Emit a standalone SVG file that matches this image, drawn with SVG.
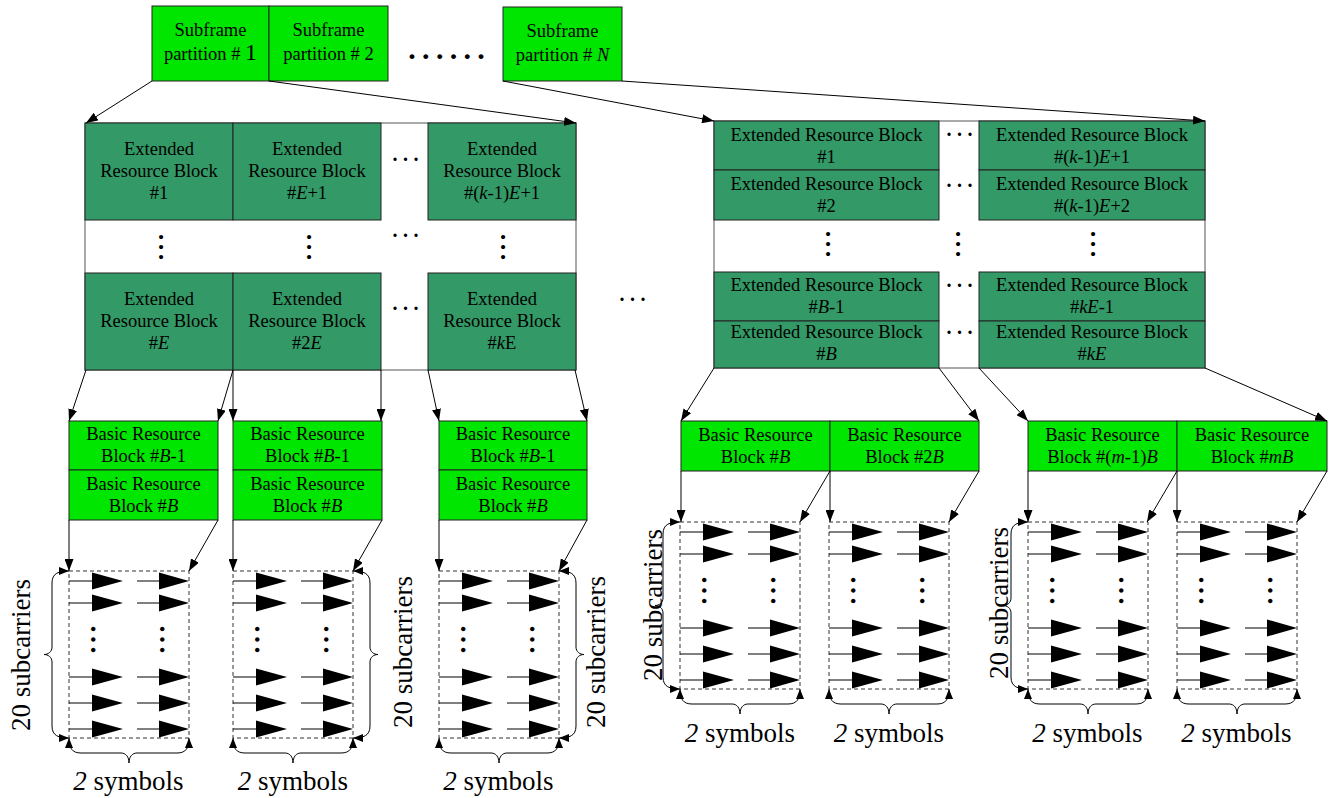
<svg xmlns="http://www.w3.org/2000/svg" xmlns:xlink="http://www.w3.org/1999/xlink" width="1335" height="798" viewBox="0 0 1335 798">
<style>
text{font-family:"Liberation Serif","Times New Roman",serif;fill:#000}
.t{font-size:18.5px;text-anchor:middle}
.lab{font-size:27px;text-anchor:middle}
.i{font-style:italic}
.erb{fill:#339966;stroke:#222;stroke-width:1}
.brb{fill:#00e600;stroke:#222;stroke-width:1}
.frame{fill:#fff;stroke:#555;stroke-width:1}
.conn{stroke:#000;stroke-width:1;fill:none;marker-end:url(#ah)}
.brace{stroke:#000;stroke-width:1;fill:none;marker-start:url(#bh);marker-end:url(#bh)}
.hd{font-size:20px;font-weight:bold;letter-spacing:5.5px}
.td{font-size:30px;font-weight:bold;letter-spacing:6.3px}
.vd{font-size:26px;font-weight:bold;letter-spacing:3.5px}
.vg{font-size:28px;font-weight:bold;letter-spacing:3.5px}
</style>
<defs>
<marker id="ah" viewBox="0 0 12 9" refX="12" refY="4.5" markerWidth="12" markerHeight="9" markerUnits="userSpaceOnUse" orient="auto"><path d="M0,0 L12,4.5 L0,9 z" fill="#000"/></marker>
<marker id="bh" viewBox="0 0 10 8" refX="10" refY="4" markerWidth="10" markerHeight="8" markerUnits="userSpaceOnUse" orient="auto-start-reverse"><path d="M0,0 L10,4 L0,8 z" fill="#000"/></marker>
<g id="gridTpl">
<rect x="0" y="0" width="120" height="167" fill="none" stroke="#333" stroke-dasharray="4 3"/>
<path d="M0,10H23M68,10H90M0,32H23M68,32H90M0,106H23M68,106H90M0,132H23M68,132H90M0,158H23M68,158H90" stroke="#000" fill="none"/>
<polygon points="23,1.5 54,10 23,18.5"/><polygon points="90,1.5 120,10 90,18.5"/>
<polygon points="23,23.5 54,32 23,40.5"/><polygon points="90,23.5 120,32 90,40.5"/>
<polygon points="23,97.5 54,106 23,114.5"/><polygon points="90,97.5 120,106 90,114.5"/>
<polygon points="23,123.5 54,132 23,140.5"/><polygon points="90,123.5 120,132 90,140.5"/>
<polygon points="23,149.5 54,158 23,166.5"/><polygon points="90,149.5 120,158 90,166.5"/>
<text class="vg" transform="translate(22,54.5) rotate(90)">...</text>
<text class="vg" transform="translate(91,54.5) rotate(90)">...</text>
</g>
<path id="braceV" d="M0,0 C-10,0 -17,2 -17,12 L-17,76 C-17,81 -21,83.5 -25,83.5 C-21,83.5 -17,86 -17,91 L-17,155 C-17,165 -10,167 0,167"/>
<path id="braceH" d="M0,0 C0,10 3,15 12,15 L52,15 C57,15 60,19 60,25 C60,19 63,15 68,15 L108,15 C117,15 120,10 120,0"/>
</defs>
<rect width="1335" height="798" fill="#fff"/>

<!-- Subframe partitions -->
<g id="sf1"><rect class="brb" x="152" y="6" width="117" height="75"/><text class="t" x="210.5" y="36">Subframe</text><text class="t" x="210.5" y="60">partition # <tspan font-size="24">1</tspan></text></g>
<g id="sf2"><rect class="brb" x="269" y="6" width="119" height="75"/><text class="t" x="328.5" y="36">Subframe</text><text class="t" x="328.5" y="60">partition # 2</text></g>
<g id="sfN"><rect class="brb" x="503" y="7" width="119" height="74"/><text class="t" x="562.5" y="37">Subframe</text><text class="t" x="562.5" y="61">partition # <tspan class="i">N</tspan></text></g>
<text class="td" x="408.3" y="59">......</text>

<!-- Left extended resource blocks -->
<g id="erbL-frame"><rect class="frame" x="85" y="123" width="491" height="247"/></g>
<g id="erbL-1"><rect class="erb" x="85" y="123" width="148" height="97"/><text class="t" x="159" y="155">Extended</text><text class="t" x="159" y="177">Resource Block</text><text class="t" x="159" y="199">#1</text></g>
<g id="erbL-E1"><rect class="erb" x="233" y="123" width="148" height="97"/><text class="t" x="307" y="155">Extended</text><text class="t" x="307" y="177">Resource Block</text><text class="t" x="307" y="199">#<tspan class="i">E</tspan>+1</text></g>
<g id="erbL-k1E1"><rect class="erb" x="428" y="123" width="148" height="97"/><text class="t" x="502" y="155">Extended</text><text class="t" x="502" y="177">Resource Block</text><text class="t" x="502" y="199">#(<tspan class="i">k</tspan>-1)<tspan class="i">E</tspan>+1</text></g>
<g id="erbL-E"><rect class="erb" x="85" y="273" width="148" height="97"/><text class="t" x="159" y="305">Extended</text><text class="t" x="159" y="327">Resource Block</text><text class="t" x="159" y="349">#<tspan class="i">E</tspan></text></g>
<g id="erbL-2E"><rect class="erb" x="233" y="273" width="148" height="97"/><text class="t" x="307" y="305">Extended</text><text class="t" x="307" y="327">Resource Block</text><text class="t" x="307" y="349">#2<tspan class="i">E</tspan></text></g>
<g id="erbL-kE"><rect class="erb" x="428" y="273" width="148" height="97"/><text class="t" x="502" y="305">Extended</text><text class="t" x="502" y="327">Resource Block</text><text class="t" x="502" y="349">#<tspan class="i">k</tspan>E</text></g>
<text class="hd" x="392.5" y="161.4">...</text>
<text class="hd" x="392.5" y="237.4">...</text>
<text class="hd" x="392.5" y="310.4">...</text>
<text class="vd" transform="translate(159.15,233.8) rotate(90)">...</text>
<text class="vd" transform="translate(307.15,233.8) rotate(90)">...</text>
<text class="vd" transform="translate(501.15,233.8) rotate(90)">...</text>

<text class="hd" x="619.5" y="301.4">...</text>

<!-- Right extended resource blocks -->
<g id="erbR-frame"><rect class="frame" x="714" y="121" width="491" height="247"/></g>
<g id="erbR-1"><rect class="erb" x="714" y="121" width="225" height="49"/><text class="t" x="826.5" y="141">Extended Resource Block</text><text class="t" x="826.5" y="163">#1</text></g>
<g id="erbR-2"><rect class="erb" x="714" y="170" width="225" height="50"/><text class="t" x="826.5" y="190">Extended Resource Block</text><text class="t" x="826.5" y="212">#2</text></g>
<g id="erbR-B1"><rect class="erb" x="714" y="272" width="225" height="49"/><text class="t" x="826.5" y="291">Extended Resource Block</text><text class="t" x="826.5" y="313">#<tspan class="i">B</tspan>-1</text></g>
<g id="erbR-B"><rect class="erb" x="714" y="321" width="225" height="47"/><text class="t" x="826.5" y="338">Extended Resource Block</text><text class="t" x="826.5" y="360">#<tspan class="i">B</tspan></text></g>
<g id="erbR-k1E1"><rect class="erb" x="979" y="121" width="226" height="49"/><text class="t" x="1092" y="141">Extended Resource Block</text><text class="t" x="1092" y="163">#(<tspan class="i">k</tspan>-1)<tspan class="i">E</tspan>+1</text></g>
<g id="erbR-k1E2"><rect class="erb" x="979" y="170" width="226" height="50"/><text class="t" x="1092" y="190">Extended Resource Block</text><text class="t" x="1092" y="212">#(<tspan class="i">k</tspan>-1)<tspan class="i">E</tspan>+2</text></g>
<g id="erbR-kE1"><rect class="erb" x="979" y="272" width="226" height="49"/><text class="t" x="1092" y="291">Extended Resource Block</text><text class="t" x="1092" y="313">#<tspan class="i">kE</tspan>-1</text></g>
<g id="erbR-kE"><rect class="erb" x="979" y="321" width="226" height="47"/><text class="t" x="1092" y="338">Extended Resource Block</text><text class="t" x="1092" y="360">#<tspan class="i">kE</tspan></text></g>
<text class="hd" x="946.5" y="136.4">...</text>
<text class="hd" x="946.5" y="187.4">...</text>
<text class="hd" x="946.5" y="287.4">...</text>
<text class="hd" x="946.5" y="334.4">...</text>
<text class="vd" transform="translate(826.15,230.8) rotate(90)">...</text>
<text class="vd" transform="translate(956.15,230.8) rotate(90)">...</text>
<text class="vd" transform="translate(1091.15,230.8) rotate(90)">...</text>

<!-- Left basic resource blocks -->
<g id="brbL1"><rect class="brb" x="69" y="421" width="149" height="49"/><rect class="brb" x="69" y="470" width="149" height="50"/><text class="t" x="143.5" y="440">Basic Resource</text><text class="t" x="143.5" y="462">Block #<tspan class="i">B</tspan>-1</text><text class="t" x="143.5" y="490">Basic Resource</text><text class="t" x="143.5" y="512">Block #<tspan class="i">B</tspan></text></g>
<g id="brbL2"><rect class="brb" x="233" y="421" width="149" height="49"/><rect class="brb" x="233" y="470" width="149" height="50"/><text class="t" x="307.5" y="440">Basic Resource</text><text class="t" x="307.5" y="462">Block #<tspan class="i">B</tspan>-1</text><text class="t" x="307.5" y="490">Basic Resource</text><text class="t" x="307.5" y="512">Block #<tspan class="i">B</tspan></text></g>
<g id="brbL3"><rect class="brb" x="439" y="421" width="148" height="49"/><rect class="brb" x="439" y="470" width="148" height="50"/><text class="t" x="513" y="440">Basic Resource</text><text class="t" x="513" y="462">Block #<tspan class="i">B</tspan>-1</text><text class="t" x="513" y="490">Basic Resource</text><text class="t" x="513" y="512">Block #<tspan class="i">B</tspan></text></g>

<!-- Right basic resource blocks -->
<g id="brbR1"><rect class="brb" x="681" y="421" width="149" height="50"/><text class="t" x="755.5" y="441">Basic Resource</text><text class="t" x="755.5" y="463">Block #<tspan class="i">B</tspan></text></g>
<g id="brbR2"><rect class="brb" x="830" y="421" width="149" height="50"/><text class="t" x="904.5" y="441">Basic Resource</text><text class="t" x="904.5" y="463">Block #2<tspan class="i">B</tspan></text></g>
<g id="brbR3"><rect class="brb" x="1028" y="421" width="149" height="50"/><text class="t" x="1102.5" y="441">Basic Resource</text><text class="t" x="1102.5" y="463">Block #(<tspan class="i">m</tspan>-1)<tspan class="i">B</tspan></text></g>
<g id="brbR4"><rect class="brb" x="1177" y="421" width="150" height="50"/><text class="t" x="1252" y="441">Basic Resource</text><text class="t" x="1252" y="463">Block #<tspan class="i">mB</tspan></text></g>

<!-- Subcarrier grids -->
<g id="gridL1"><use xlink:href="#gridTpl" href="#gridTpl" x="69" y="571"/></g>
<g id="gridL2"><use xlink:href="#gridTpl" href="#gridTpl" x="233" y="571"/></g>
<g id="gridL3"><use xlink:href="#gridTpl" href="#gridTpl" x="439" y="571"/></g>
<g id="gridR1"><use xlink:href="#gridTpl" href="#gridTpl" x="680" y="522"/></g>
<g id="gridR2"><use xlink:href="#gridTpl" href="#gridTpl" x="829" y="522"/></g>
<g id="gridR3"><use xlink:href="#gridTpl" href="#gridTpl" x="1028" y="522"/></g>
<g id="gridR4"><use xlink:href="#gridTpl" href="#gridTpl" x="1177" y="522"/></g>

<!-- Braces and labels -->
<g id="braces">
<use class="brace" xlink:href="#braceV" href="#braceV" transform="translate(69,571)"/>
<use class="brace" xlink:href="#braceV" href="#braceV" transform="translate(353,571) scale(-1,1)"/>
<use class="brace" xlink:href="#braceV" href="#braceV" transform="translate(559,571) scale(-1,1)"/>
<use class="brace" xlink:href="#braceV" href="#braceV" transform="translate(680,522)"/>
<use class="brace" xlink:href="#braceV" href="#braceV" transform="translate(1028,522)"/>
<use class="brace" xlink:href="#braceH" href="#braceH" transform="translate(69,738)"/>
<use class="brace" xlink:href="#braceH" href="#braceH" transform="translate(233,738)"/>
<use class="brace" xlink:href="#braceH" href="#braceH" transform="translate(439,738)"/>
<use class="brace" xlink:href="#braceH" href="#braceH" transform="translate(680,689)"/>
<use class="brace" xlink:href="#braceH" href="#braceH" transform="translate(829,689)"/>
<use class="brace" xlink:href="#braceH" href="#braceH" transform="translate(1028,689)"/>
<use class="brace" xlink:href="#braceH" href="#braceH" transform="translate(1177,689)"/>
</g>
<g id="labels">
<text class="lab" transform="translate(30,655) rotate(-90)">20 subcarriers</text>
<text class="lab" transform="translate(412,652) rotate(-90)">20 subcarriers</text>
<text class="lab" transform="translate(605,652) rotate(-90)">20 subcarriers</text>
<text class="lab" transform="translate(662,605) rotate(-90)">20 subcarriers</text>
<text class="lab" transform="translate(1008,603) rotate(-90)">20 subcarriers</text>
<text class="lab" x="128.5" y="790"><tspan class="i">2</tspan> symbols</text>
<text class="lab" x="293" y="790"><tspan class="i">2</tspan> symbols</text>
<text class="lab" x="498.5" y="790"><tspan class="i">2</tspan> symbols</text>
<text class="lab" x="740" y="742"><tspan class="i">2</tspan> symbols</text>
<text class="lab" x="889" y="742"><tspan class="i">2</tspan> symbols</text>
<text class="lab" x="1087.5" y="742"><tspan class="i">2</tspan> symbols</text>
<text class="lab" x="1236.5" y="742"><tspan class="i">2</tspan> symbols</text>
</g>

<!-- Connectors -->
<g id="connectors">
<line class="conn" x1="152" y1="81" x2="86" y2="123"/>
<line class="conn" x1="269" y1="81" x2="576" y2="123"/>
<line class="conn" x1="503" y1="81" x2="714" y2="121"/>
<line class="conn" x1="622" y1="81" x2="1205" y2="121"/>
<line class="conn" x1="86" y1="370" x2="69" y2="421"/>
<line class="conn" x1="233" y1="370" x2="218" y2="421"/>
<line class="conn" x1="233" y1="370" x2="233" y2="421"/>
<line class="conn" x1="381" y1="370" x2="381" y2="421"/>
<line class="conn" x1="428" y1="370" x2="439" y2="421"/>
<line class="conn" x1="575" y1="370" x2="587" y2="421"/>
<line class="conn" x1="714" y1="368" x2="681" y2="421"/>
<line class="conn" x1="939" y1="368" x2="979" y2="421"/>
<line class="conn" x1="979" y1="368" x2="1028" y2="421"/>
<line class="conn" x1="1205" y1="368" x2="1327" y2="421"/>
<line class="conn" x1="69" y1="520" x2="69" y2="571"/>
<line class="conn" x1="218" y1="520" x2="189" y2="571"/>
<line class="conn" x1="233" y1="520" x2="233" y2="571"/>
<line class="conn" x1="382" y1="520" x2="353" y2="571"/>
<line class="conn" x1="439" y1="520" x2="439" y2="571"/>
<line class="conn" x1="587" y1="520" x2="559" y2="571"/>
<line class="conn" x1="681" y1="471" x2="681" y2="522"/>
<line class="conn" x1="830" y1="471" x2="800" y2="522"/>
<line class="conn" x1="830" y1="471" x2="830" y2="522"/>
<line class="conn" x1="979" y1="471" x2="949" y2="522"/>
<line class="conn" x1="1028" y1="471" x2="1028" y2="522"/>
<line class="conn" x1="1177" y1="471" x2="1147" y2="522"/>
<line class="conn" x1="1177" y1="471" x2="1177" y2="522"/>
<line class="conn" x1="1327" y1="471" x2="1297" y2="522"/>
</g>
</svg>
